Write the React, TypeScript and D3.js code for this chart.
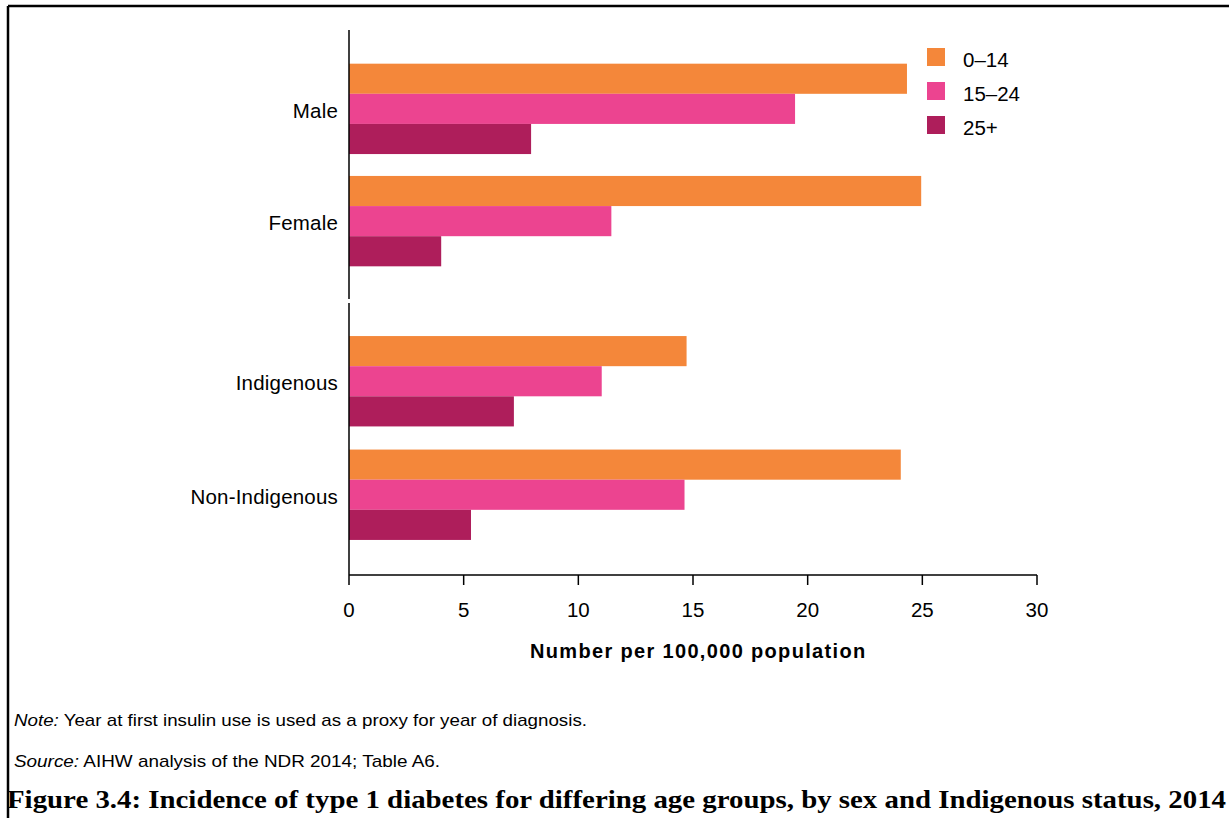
import React from "react";
import * as d3 from "d3";

const panelTop = ["Male", "Female"];
const panelBottom = ["Indigenous", "Non-Indigenous"];
const series = ["0–14", "15–24", "25+"];
const colors = ["#F4873A", "#EC4490", "#AE1E5B"];
const values0to14 = [24.33, 24.95, 14.72, 24.06];
const values15to24 = [19.45, 11.44, 11.02, 14.63];
const values25plus = [7.94, 4.02, 7.19, 5.32];
const xTicks = [0, 5, 10, 15, 20, 25, 30];
const categories = [...panelTop, ...panelBottom];

const W = 1229;
const H = 818;
const FONT = "'Liberation Sans', Arial, sans-serif";

export default function App() {
  const x = d3.scaleLinear().domain([0, 30]).range([349, 1037]);
  const yTop = d3.scaleBand().domain(panelTop).range([30, 300]).paddingInner(0.195).paddingOuter(0.3);
  const yBot = d3.scaleBand().domain(panelBottom).range([302, 575]).paddingInner(0.195).paddingOuter(0.3);
  const yCat = (c: string) => (panelTop.includes(c) ? yTop(c)! : yBot(c)!);
  const bw = yTop.bandwidth();
  const inner = d3.scaleBand().domain(series).range([0, bw]);
  const allVals = [values0to14, values15to24, values25plus];

  return (
    <svg width={W} height={H} style={{ position: "absolute", left: 0, top: 0 }} fontFamily={FONT}>
      <rect width={W} height={H} fill="#fff" />
      {/* frame */}
      <line x1={8} y1={6} x2={W} y2={6} stroke="#000" strokeWidth={2.5} />
      <line x1={8} y1={6} x2={8} y2={H} stroke="#000" strokeWidth={2.5} />

      {/* bars */}
      {categories.map((c, i) => (
        <g key={c}>
          {series.map((s, j) => (
            <rect
              key={s}
              x={x(0)}
              y={yCat(c) + inner(s)!}
              width={x(allVals[j][i]) - x(0)}
              height={inner.bandwidth()}
              fill={colors[j]}
            />
          ))}
          <text
            x={338}
            y={yCat(c) + bw / 2}
            dy="0.45em"
            textAnchor="end"
            fontSize={20.5}
            letterSpacing={0.2}
            fill="#000"
          >
            {c}
          </text>
        </g>
      ))}

      {/* y axis segments */}
      <line x1={349} y1={30} x2={349} y2={299} stroke="#000" strokeWidth={1.5} />
      <line x1={349} y1={303} x2={349} y2={575} stroke="#000" strokeWidth={1.5} />

      {/* x axis */}
      <line x1={x(0)} y1={575} x2={x(30)} y2={575} stroke="#000" strokeWidth={1.5} />
      {xTicks.map((t) => (
        <g key={t}>
          <line x1={x(t)} y1={575} x2={x(t)} y2={585} stroke="#000" strokeWidth={1.5} />
          <text x={x(t)} y={617} textAnchor="middle" fontSize={20.5} fill="#000">
            {t}
          </text>
        </g>
      ))}
      <text
        x={698}
        y={658}
        textAnchor="middle"
        fontSize={20}
        fontWeight="bold"
        letterSpacing={0.8}
        textLength={336}
        lengthAdjust="spacing"
        fill="#000"
      >
        Number per 100,000 population
      </text>

      {/* legend */}
      {series.map((s, j) => (
        <g key={s}>
          <rect x={927} y={48 + j * 34} width={18} height={18} fill={colors[j]} />
          <text x={963} y={60 + j * 34} dy="0.35em" fontSize={20.5} fill="#000">
            {s}
          </text>
        </g>
      ))}

      {/* notes */}
      <text x={14} y={726} fontSize={17} textLength={573} lengthAdjust="spacingAndGlyphs" fill="#000">
        <tspan fontStyle="italic">Note:</tspan> Year at first insulin use is used as a proxy for year of diagnosis.
      </text>
      <text x={14} y={767} fontSize={17} textLength={426} lengthAdjust="spacingAndGlyphs" fill="#000">
        <tspan fontStyle="italic">Source:</tspan> AIHW analysis of the NDR 2014; Table A6.
      </text>
      <text
        x={7}
        y={808}
        fontSize={25}
        fontWeight="bold"
        fontFamily="'Liberation Serif', 'Times New Roman', serif"
        textLength={1219}
        lengthAdjust="spacingAndGlyphs"
        fill="#000"
      >
        Figure 3.4: Incidence of type 1 diabetes for differing age groups, by sex and Indigenous status, 2014
      </text>
    </svg>
  );
}
